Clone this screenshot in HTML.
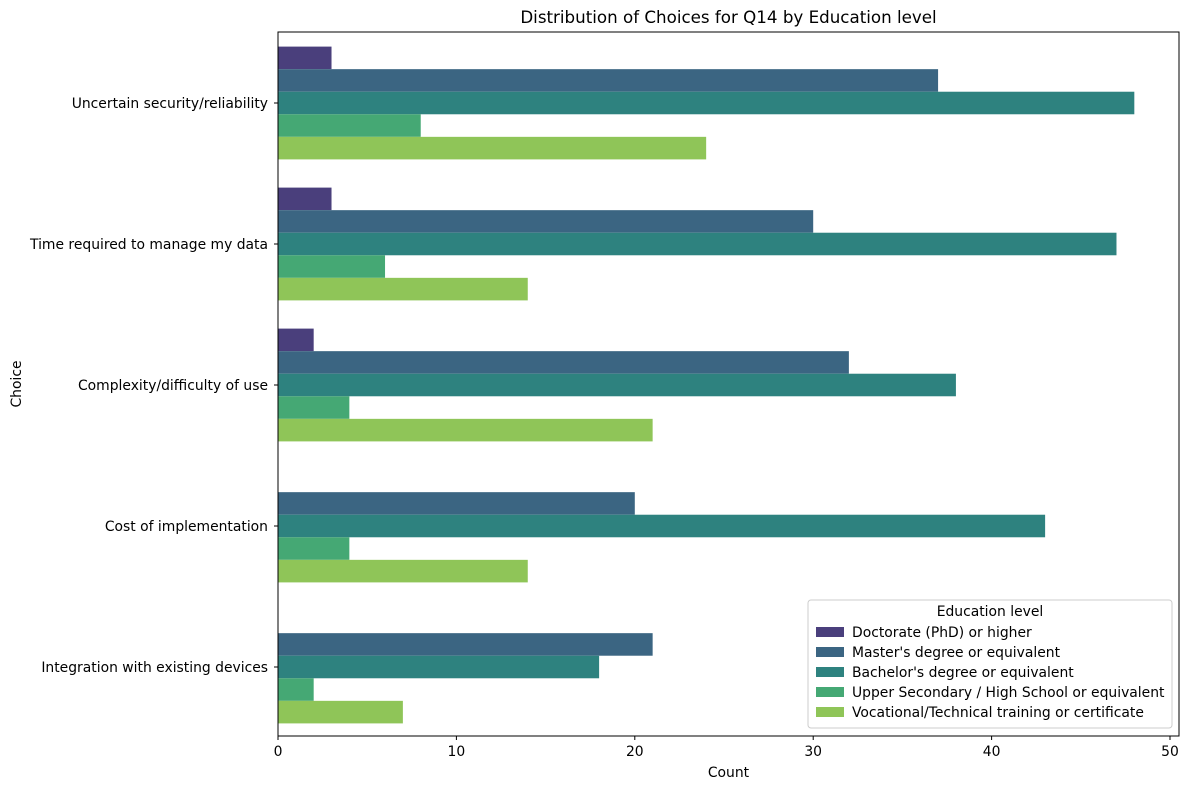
<!DOCTYPE html>
<html><head><meta charset="utf-8"><style>
body{margin:0;background:#fff;font-family:"Liberation Sans","DejaVu Sans",sans-serif;}
svg text{font-family:"DejaVu Sans","Liberation Sans",sans-serif;fill:#000;}
</style></head><body>
<svg id="c" width="1190" height="790" xmlns="http://www.w3.org/2000/svg"></svg>
<script>
const categories=["Uncertain security/reliability","Time required to manage my data","Complexity/difficulty of use","Cost of implementation","Integration with existing devices"];
const seriesNames=["Doctorate (PhD) or higher","Master's degree or equivalent","Bachelor's degree or equivalent","Upper Secondary / High School or equivalent","Vocational/Technical training or certificate"];
const doctorate=[3,3,2,0,0];
const masters=[37,30,32,20,21];
const bachelors=[48,47,38,43,18];
const upperSecondary=[8,6,4,4,2];
const vocational=[24,14,21,14,7];
const xTicks=[0,10,20,30,40,50];
const series=[doctorate,masters,bachelors,upperSecondary,vocational];
const colors=["#4a3f7c","#3b6582","#2e827f","#45a874","#8fc558"];
const L=278,R=1179,T=32,B=736;
const x=v=>L+v*17.84;
const yc=i=>103+i*141;
const bh=22.56;
const FS=13.9;
const svg=document.getElementById('c');
const NS="http://www.w3.org/2000/svg";
function mk(t,a,txt){const e=document.createElementNS(NS,t);for(const k in a)e.setAttribute(k,a[k]);if(txt!==undefined)e.textContent=txt;svg.appendChild(e);return e;}
let e=mk('text',{x:(L+R)/2,y:23,'text-anchor':'middle','font-size':16.7},"Distribution of Choices for Q14 by Education level");

categories.forEach((c,i)=>{series.forEach((s,j)=>{
 const r=mk('rect',{x:x(0),y:yc(i)-2.5*bh+j*bh,width:x(s[i])-x(0),height:bh,fill:colors[j]});
 });
 mk('line',{x1:L-4,x2:L,y1:yc(i),y2:yc(i),stroke:'#000'});
 const t=mk('text',{x:L-10,y:yc(i)+5,'text-anchor':'end','font-size':FS},c);
 
});
xTicks.forEach(v=>{mk('line',{x1:x(v),x2:x(v),y1:B,y2:B+4,stroke:'#000'});
 const t=mk('text',{x:x(v),y:B+20,'text-anchor':'middle','font-size':FS},v);
 });
e=mk('rect',{x:L,y:T,width:R-L,height:B-T,fill:'none',stroke:'#000','stroke-width':1});

e=mk('text',{x:(L+R)/2,y:777,'text-anchor':'middle','font-size':FS},"Count");

e=mk('text',{x:21,y:384,'text-anchor':'middle','font-size':FS,transform:'rotate(-90 21 384)'},"Choice");

e=mk('rect',{x:808,y:600,width:364,height:128,fill:'#fff','fill-opacity':0.8,stroke:'#ccc',rx:3});

mk('text',{x:990,y:616,'text-anchor':'middle','font-size':FS},"Education level");
seriesNames.forEach((n,j)=>{const yy=627+j*20;
 const r=mk('rect',{x:816,y:yy,width:28,height:10,fill:colors[j]});
 
 const t=mk('text',{x:852,y:yy+10,'font-size':FS},n);
 });
</script>
</body></html>
